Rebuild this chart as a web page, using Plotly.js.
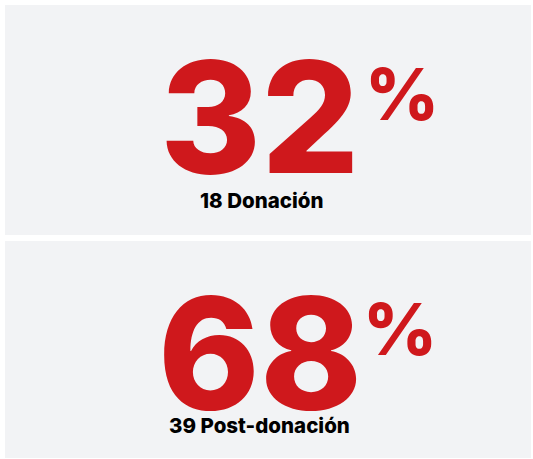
<!DOCTYPE html>
<html>
<head>
<meta charset="utf-8">
<script src="https://cdn.plot.ly/plotly-3.0.1.min.js"></script>
<style>html,body{margin:0;padding:0;background:#fff}#chart{width:533px;height:459px}</style>
</head>
<body>
<div id="chart"></div>
<script>
// Data
const categories = ["Donación", "Post-donación"];
const counts = [18, 39];
const percents = [32, 68];

// Layout (pixel-like data coordinates)
const W = 533, H = 459;
const panels = [[5, 531, 5, 235], [5, 531, 241, 458]];
const numCenter = [[259, 117], [260, 353]];
const pctCenter = [[402, 93], [400, 328]];
const lblCenter = [[261, 200], [259, 425]];

const RED = "#cf181c";
const BG = "#f2f3f5";
const FONT = "Inter, 'Open Sans', sans-serif";

const shapes = panels.map(p => ({
  type: "rect", xref: "x", yref: "y", layer: "below",
  x0: p[0], x1: p[1], y0: p[2], y1: p[3],
  fillcolor: BG, line: {width: 0}
}));

const annotations = [];
categories.forEach((c, i) => {
  annotations.push({
    x: numCenter[i][0], y: numCenter[i][1], xref: "x", yref: "y",
    text: String(percents[i]), showarrow: false,
    xanchor: "center", yanchor: "middle", valign: "middle",
    height: 122, borderpad: 0,
    font: {family: FONT, size: 154, color: RED, weight: 800}
  });
  annotations.push({
    x: pctCenter[i][0], y: pctCenter[i][1], xref: "x", yref: "y",
    text: "%", showarrow: false,
    xanchor: "center", yanchor: "middle",
    font: {family: FONT, size: 72, color: RED, weight: 800}
  });
  annotations.push({
    x: lblCenter[i][0], y: lblCenter[i][1], xref: "x", yref: "y",
    text: counts[i] + " " + c, showarrow: false,
    xanchor: "center", yanchor: "middle",
    font: {family: FONT, size: 20.5, color: "#000000", weight: 800}
  });
});

const layout = {
  width: W, height: H,
  margin: {l: 0, r: 0, t: 0, b: 0, pad: 0},
  paper_bgcolor: "#ffffff", plot_bgcolor: "#ffffff",
  xaxis: {range: [0, W], visible: false, fixedrange: true},
  yaxis: {range: [H, 0], visible: false, fixedrange: true},
  showlegend: false,
  shapes: shapes,
  annotations: annotations
};

Plotly.newPlot("chart", [{x: [], y: [], type: "scatter", mode: "markers", hoverinfo: "skip"}], layout, {displayModeBar: false, staticPlot: true});
</script>
</body>
</html>
